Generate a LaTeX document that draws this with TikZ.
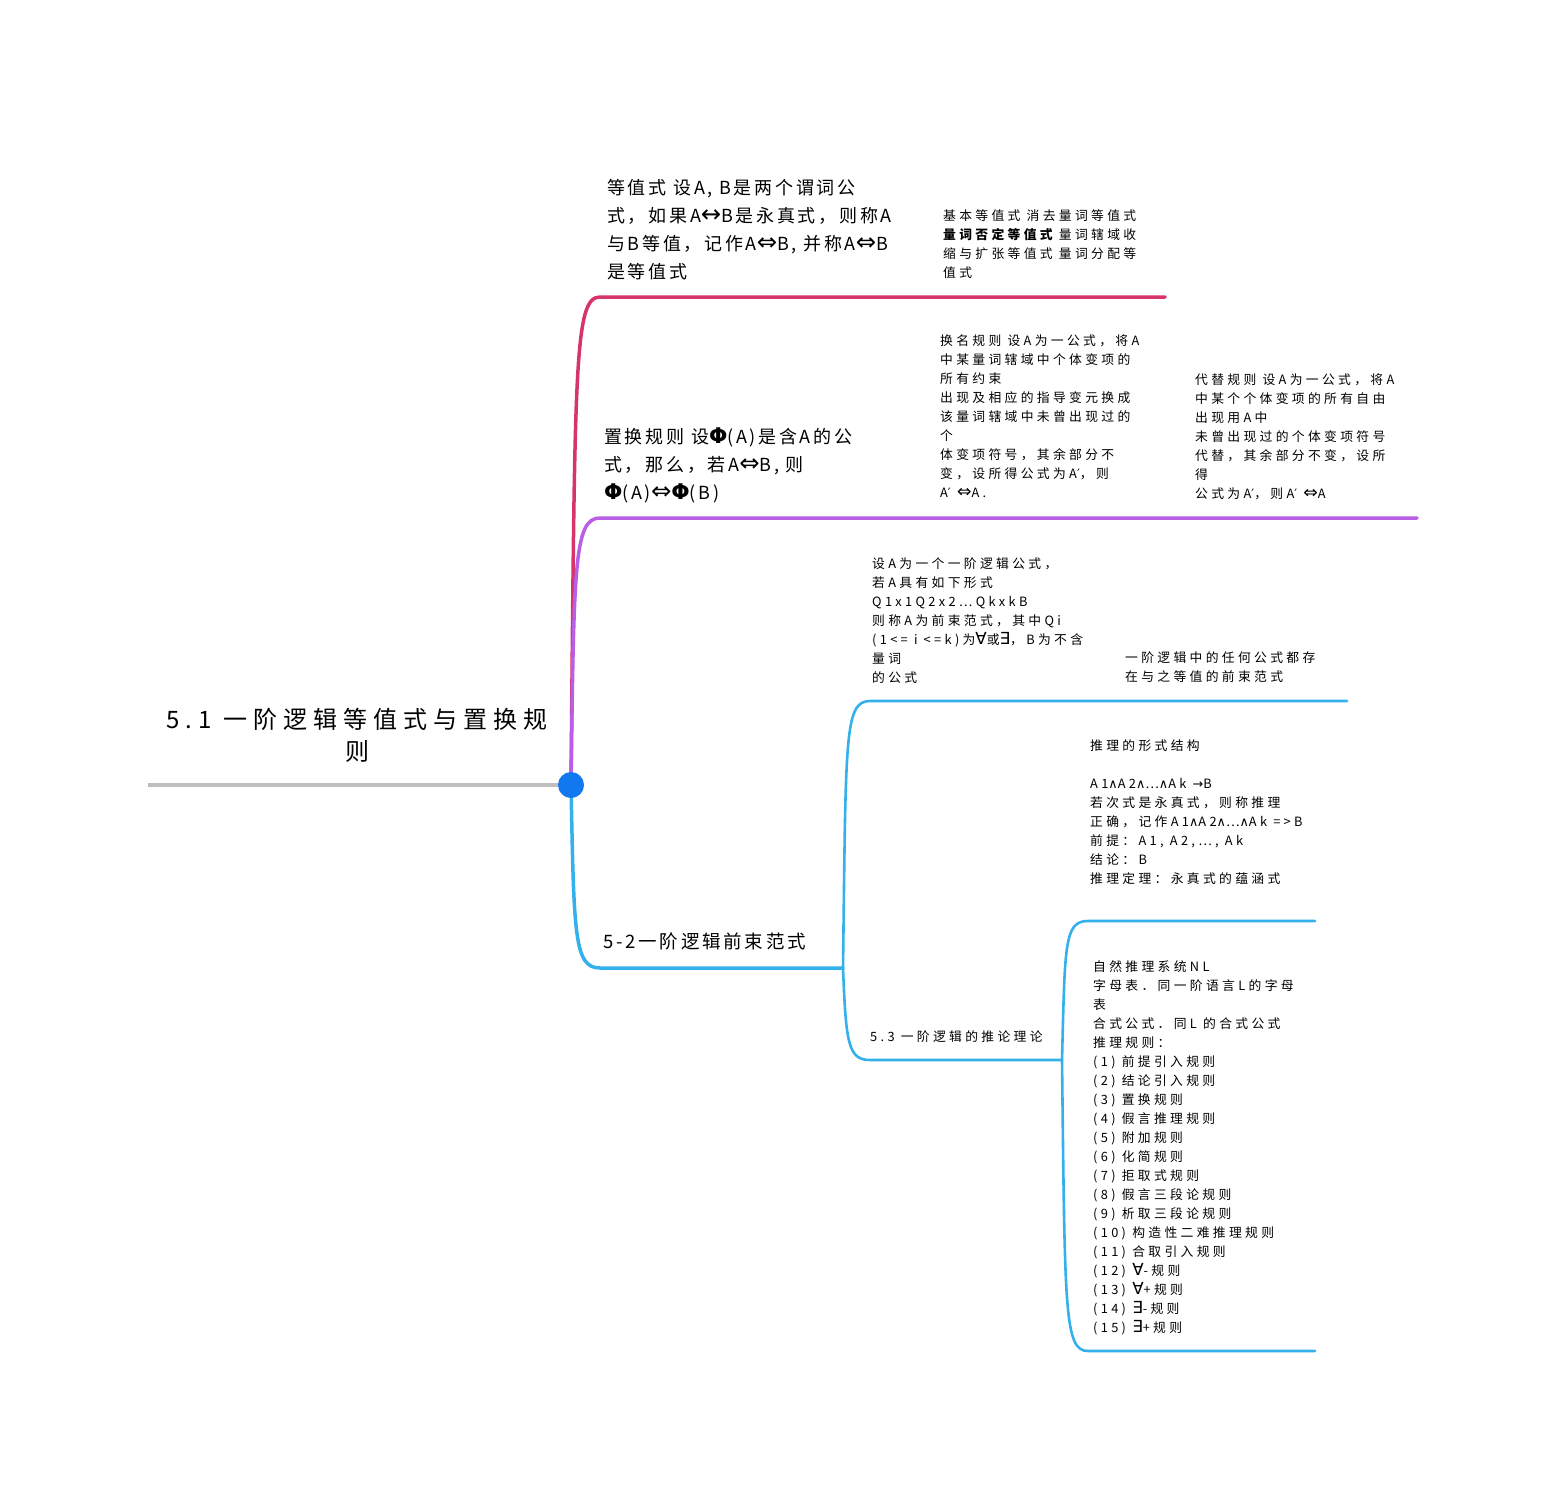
\documentclass[tikz,border=0pt]{standalone}
\usepackage{graphicx}
\usepackage{fontspec}
\setmainfont{Noto Sans CJK SC}[LetterSpace=15]
\newfontfamily\smallf{Noto Sans CJK SC}[LetterSpace=26]
\newfontfamily\rootf{Noto Sans CJK SC}[LetterSpace=25]
\newfontfamily\symf{DejaVu Sans}
\newcommand\myLR{\scalebox{1.35}{\symf ↔}}
\newcommand\myIff{\scalebox{1.35}{\symf ⇔}}
\newcommand\myPhi{\scalebox{1.2}{\symf\bfseries Φ}}
\newcommand\myAll{\scalebox{1.3}{\symf ∀}}
\newcommand\myEx{\scalebox{1.3}{\symf ∃}}
\newcommand\myAnd{{\symf ∧}}
\newcommand\myPr{{\symf ′}}
\newcommand\myTo{{\symf →}}
\definecolor{crim}{RGB}{214,52,108}
\definecolor{purp}{RGB}{185,95,230}
\definecolor{blu}{RGB}{52,176,234}
\definecolor{greyl}{RGB}{190,190,190}
\definecolor{rootb}{RGB}{18,120,240}
\tikzset{
  bigtxt/.style={font=\fontsize{18}{28}\selectfont, align=left, inner sep=0pt, anchor=north west},
  midtxt/.style={font=\fontsize{18.5}{28}\selectfont, align=left, inner sep=0pt, anchor=north west},
  smalltxt/.style={font=\smallf\fontsize{12.8}{19}\selectfont, align=left, inner sep=0pt, anchor=north west},
  roottxt/.style={font=\rootf\fontsize{24}{32}\selectfont, align=center, inner sep=0pt, anchor=north},
  mainbr/.style={line width=3.5pt, line cap=round},
  subbr/.style={line width=2.6pt, line cap=round},
}
\begin{document}
\begin{tikzpicture}[x=1pt,y=-1pt]
\useasboundingbox (0,0) rectangle (1566,1501);
% coordinates
\coordinate (G) at (148,785);
\coordinate (R) at (571,785);
\coordinate (c1) at (600,297); \coordinate (c1e) at (1165,297);
\coordinate (c2) at (600,518); \coordinate (c2e) at (1417,518);
\coordinate (c3) at (600,968); \coordinate (c3e) at (843,968);
\coordinate (c4) at (870,701); \coordinate (c4e) at (1347,701);
\coordinate (c5) at (870,1060); \coordinate (c5e) at (1062,1060);
\coordinate (c6) at (1088,921); \coordinate (c6e) at (1315,921);
\coordinate (c7) at (1088,1351); \coordinate (c7e) at (1315,1351);
% connectors
\draw[greyl, line width=4pt] (G) -- (R);
\draw[crim, mainbr] (R) .. controls +(4,-420) and +(-26,0) .. (c1) -- (c1e);
\draw[purp, mainbr] (R) .. controls +(3,-220) and +(-26,0) .. (c2) -- (c2e);
\draw[blu, mainbr] (R) .. controls +(3,150) and +(-26,0) .. (c3) -- (c3e);
\draw[blu, subbr] (c3e) .. controls +(3,-230) and +(-26,0) .. (c4) -- (c4e);
\draw[blu, subbr] (c3e) .. controls +(3,75) and +(-22,0) .. (c5) -- (c5e);
\draw[blu, subbr] (c5e) .. controls +(3,-115) and +(-24,0) .. (c6) -- (c6e);
\draw[blu, subbr] (c5e) .. controls +(3,250) and +(-24,0) .. (c7) -- (c7e);
\fill[rootb] (R) circle (13);
% texts
\node[roottxt] (root) at (357,708) {5.1 一阶逻辑等值式与置换规\\则};
\node[bigtxt] (b1) at (607,179) {等值式 设A, B是两个谓词公\\式，如果A\myLR B是永真式，则称A\\与B等值，记作A\myIff B, 并称A\myIff B\\是等值式};
\node[smalltxt] (b1c) at (943,209) {基本等值式 消去量词等值式\\{\bfseries 量词否定等值式} 量词辖域收\\缩与扩张等值式 量词分配等\\值式};
\node[bigtxt] (b2) at (604,428) {置换规则 设\myPhi(A)是含A的公\\式，那么，若A\myIff B, 则\\\myPhi(A)\myIff\myPhi(B)};
\node[smalltxt] (b2c1) at (940,335) {换名规则 设A为一公式，将A\\中某量词辖域中个体变项的\\所有约束\\出现及相应的指导变元换成\\该量词辖域中未曾出现过的\\个\\体变项符号，其余部分不\\变，设所得公式为A\myPr，则\\A\myPr\ \myIff A.};
\node[smalltxt] (b2c2) at (1195,374) {代替规则 设A为一公式，将A\\中某个个体变项的所有自由\\出现用A中\\未曾出现过的个体变项符号\\代替，其余部分不变，设所\\得\\公式为A\myPr，则A\myPr\ \myIff A};
\node[midtxt] (b3) at (603,933) {5-2一阶逻辑前束范式};
\node[smalltxt] (b3a) at (872,557) {设A为一个一阶逻辑公式，\\若A具有如下形式\\Q1x1Q2x2…QkxkB\\则称A为前束范式，其中Qi\\(1<= i <=k)为\myAll 或\myEx，B为不含\\量词\\的公式};
\node[smalltxt] (b3a1) at (1125,651) {一阶逻辑中的任何公式都存\\在与之等值的前束范式};
\node[smalltxt] (b3b) at (870,1030) {5.3 一阶逻辑的推论理论};
\node[smalltxt] (b3b1) at (1090,739) {推理的形式结构\\[19pt]A1\myAnd A2\myAnd…\myAnd Ak \myTo B\\若次式是永真式，则称推理\\正确，记作A1\myAnd A2\myAnd…\myAnd Ak =>B\\前提：A1, A2,…, Ak\\结论：B\\推理定理：永真式的蕴涵式};
\node[smalltxt] (b3b2) at (1093,960) {自然推理系统NL\\字母表．同一阶语言L的字母\\表\\合式公式．同L 的合式公式\\推理规则：\\(1) 前提引入规则\\(2) 结论引入规则\\(3) 置换规则\\(4) 假言推理规则\\(5) 附加规则\\(6) 化简规则\\(7) 拒取式规则\\(8) 假言三段论规则\\(9) 析取三段论规则\\(10) 构造性二难推理规则\\(11) 合取引入规则\\(12) \myAll-规则\\(13) \myAll+规则\\(14) \myEx-规则\\(15) \myEx+规则};
\end{tikzpicture}
\end{document}
